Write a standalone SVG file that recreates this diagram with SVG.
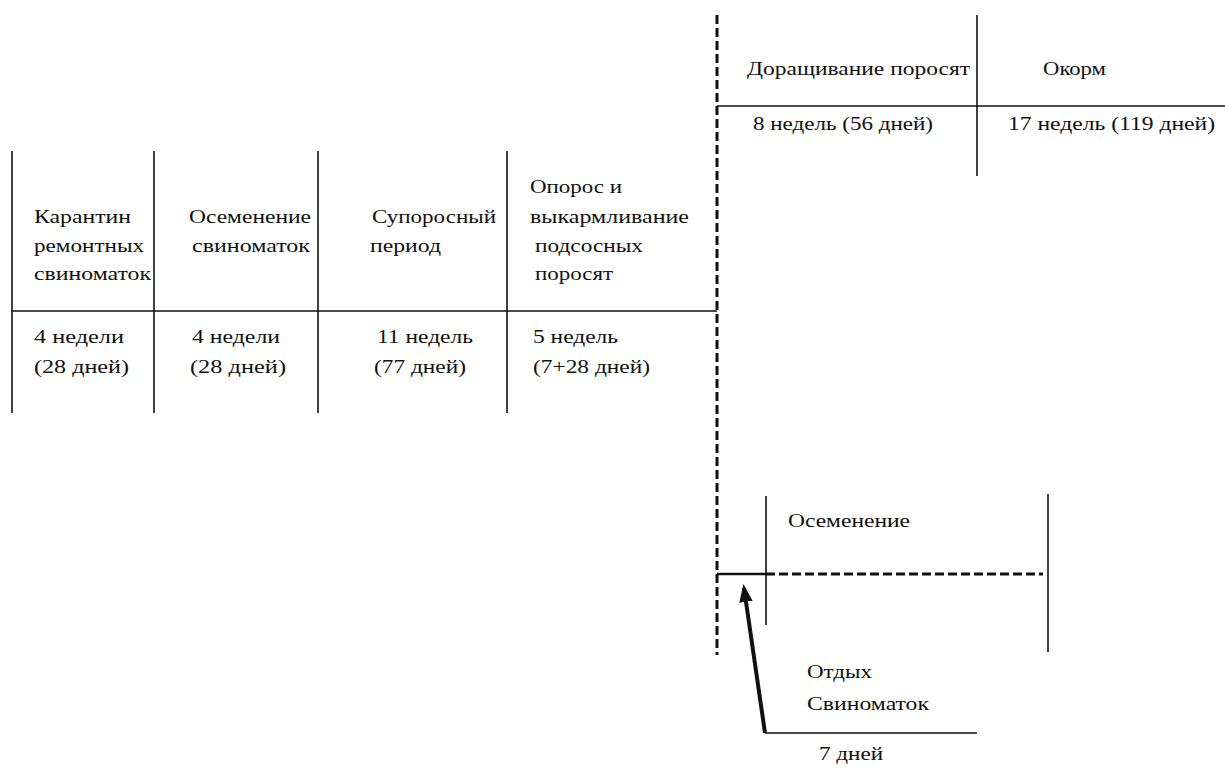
<svg xmlns="http://www.w3.org/2000/svg" width="1225" height="772" viewBox="0 0 1225 772">
<style>
.t text{font-family:"Liberation Serif","Times New Roman",serif;font-size:19px;fill:#111}
.l{stroke:#111;stroke-width:1.6;fill:none}
.d{stroke:#111;stroke-width:3;stroke-dasharray:9 4;fill:none}
</style>
<defs>
<marker id="ah" markerWidth="4.5" markerHeight="3.4" refX="3.5" refY="1.7" orient="auto" markerUnits="strokeWidth">
<path d="M0,0 L4.5,1.7 L0,3.4 Z" fill="#111"/>
</marker>
</defs>
<rect width="1225" height="772" fill="#fff"/>
<g id="connectors">
<line class="d" x1="717" y1="15" x2="717" y2="655"/>
<line class="l" x1="12" y1="311" x2="717" y2="311"/>
<line class="l" x1="12" y1="151" x2="12" y2="413"/>
<line class="l" x1="154" y1="151" x2="154" y2="413"/>
<line class="l" x1="318" y1="151" x2="318" y2="413"/>
<line class="l" x1="507" y1="151" x2="507" y2="413"/>
<line class="l" x1="717" y1="106" x2="1225" y2="106"/>
<line class="l" x1="977" y1="15" x2="977" y2="176"/>
<line class="l" x1="766" y1="496" x2="766" y2="625"/>
<line class="l" x1="1048" y1="494" x2="1048" y2="652"/>
<line class="l" x1="717" y1="574" x2="766" y2="574" style="stroke-width:2.5"/>
<line class="d" x1="766" y1="574" x2="1043" y2="574"/>
<line class="l" x1="765" y1="733" x2="977" y2="733"/>
<line x1="765" y1="733" x2="744" y2="588" stroke="#111" stroke-width="4" marker-end="url(#ah)"/>
</g>
<g class="t" font-family="Liberation Serif, serif" font-size="19">
<g id="n1">
<text x="34" y="223" textLength="97" lengthAdjust="spacingAndGlyphs">Карантин</text>
<text x="34" y="252" textLength="110" lengthAdjust="spacingAndGlyphs">ремонтных</text>
<text x="34" y="280" textLength="117" lengthAdjust="spacingAndGlyphs">свиноматок</text>
<text x="34" y="343" textLength="90" lengthAdjust="spacingAndGlyphs">4 недели</text>
<text x="34" y="373" textLength="95" lengthAdjust="spacingAndGlyphs">(28 дней)</text>
</g>
<g id="n2">
<text x="189" y="223" textLength="122" lengthAdjust="spacingAndGlyphs">Осеменение</text>
<text x="192" y="252" textLength="118" lengthAdjust="spacingAndGlyphs">свиноматок</text>
<text x="192" y="343" textLength="88" lengthAdjust="spacingAndGlyphs">4 недели</text>
<text x="190" y="373" textLength="96" lengthAdjust="spacingAndGlyphs">(28 дней)</text>
</g>
<g id="n3">
<text x="372" y="223" textLength="124" lengthAdjust="spacingAndGlyphs">Супоросный</text>
<text x="370" y="252" textLength="71" lengthAdjust="spacingAndGlyphs">период</text>
<text x="377" y="343" textLength="96" lengthAdjust="spacingAndGlyphs">11 недель</text>
<text x="374" y="373" textLength="92" lengthAdjust="spacingAndGlyphs">(77 дней)</text>
</g>
<g id="n4">
<text x="530" y="193" textLength="92" lengthAdjust="spacingAndGlyphs">Опорос и</text>
<text x="530" y="223" textLength="159" lengthAdjust="spacingAndGlyphs">выкармливание</text>
<text x="535" y="252" textLength="108" lengthAdjust="spacingAndGlyphs">подсосных</text>
<text x="535" y="280" textLength="78" lengthAdjust="spacingAndGlyphs">поросят</text>
<text x="533" y="343" textLength="85" lengthAdjust="spacingAndGlyphs">5 недель</text>
<text x="533" y="373" textLength="117" lengthAdjust="spacingAndGlyphs">(7+28 дней)</text>
</g>
<g id="n5">
<text x="747" y="75" textLength="223" lengthAdjust="spacingAndGlyphs">Доращивание поросят</text>
<text x="753" y="130" textLength="180" lengthAdjust="spacingAndGlyphs">8 недель (56 дней)</text>
</g>
<g id="n6">
<text x="1043" y="75" textLength="63" lengthAdjust="spacingAndGlyphs">Окорм</text>
<text x="1008" y="130" textLength="207" lengthAdjust="spacingAndGlyphs">17 недель (119 дней)</text>
</g>
<g id="n7">
<text x="788" y="527" textLength="122" lengthAdjust="spacingAndGlyphs">Осеменение</text>
</g>
<g id="n8">
<text x="807" y="678" textLength="65" lengthAdjust="spacingAndGlyphs">Отдых</text>
<text x="807" y="710" textLength="122" lengthAdjust="spacingAndGlyphs">Свиноматок</text>
<text x="819" y="760" textLength="64" lengthAdjust="spacingAndGlyphs">7 дней</text>
</g>
</g>
</svg>
